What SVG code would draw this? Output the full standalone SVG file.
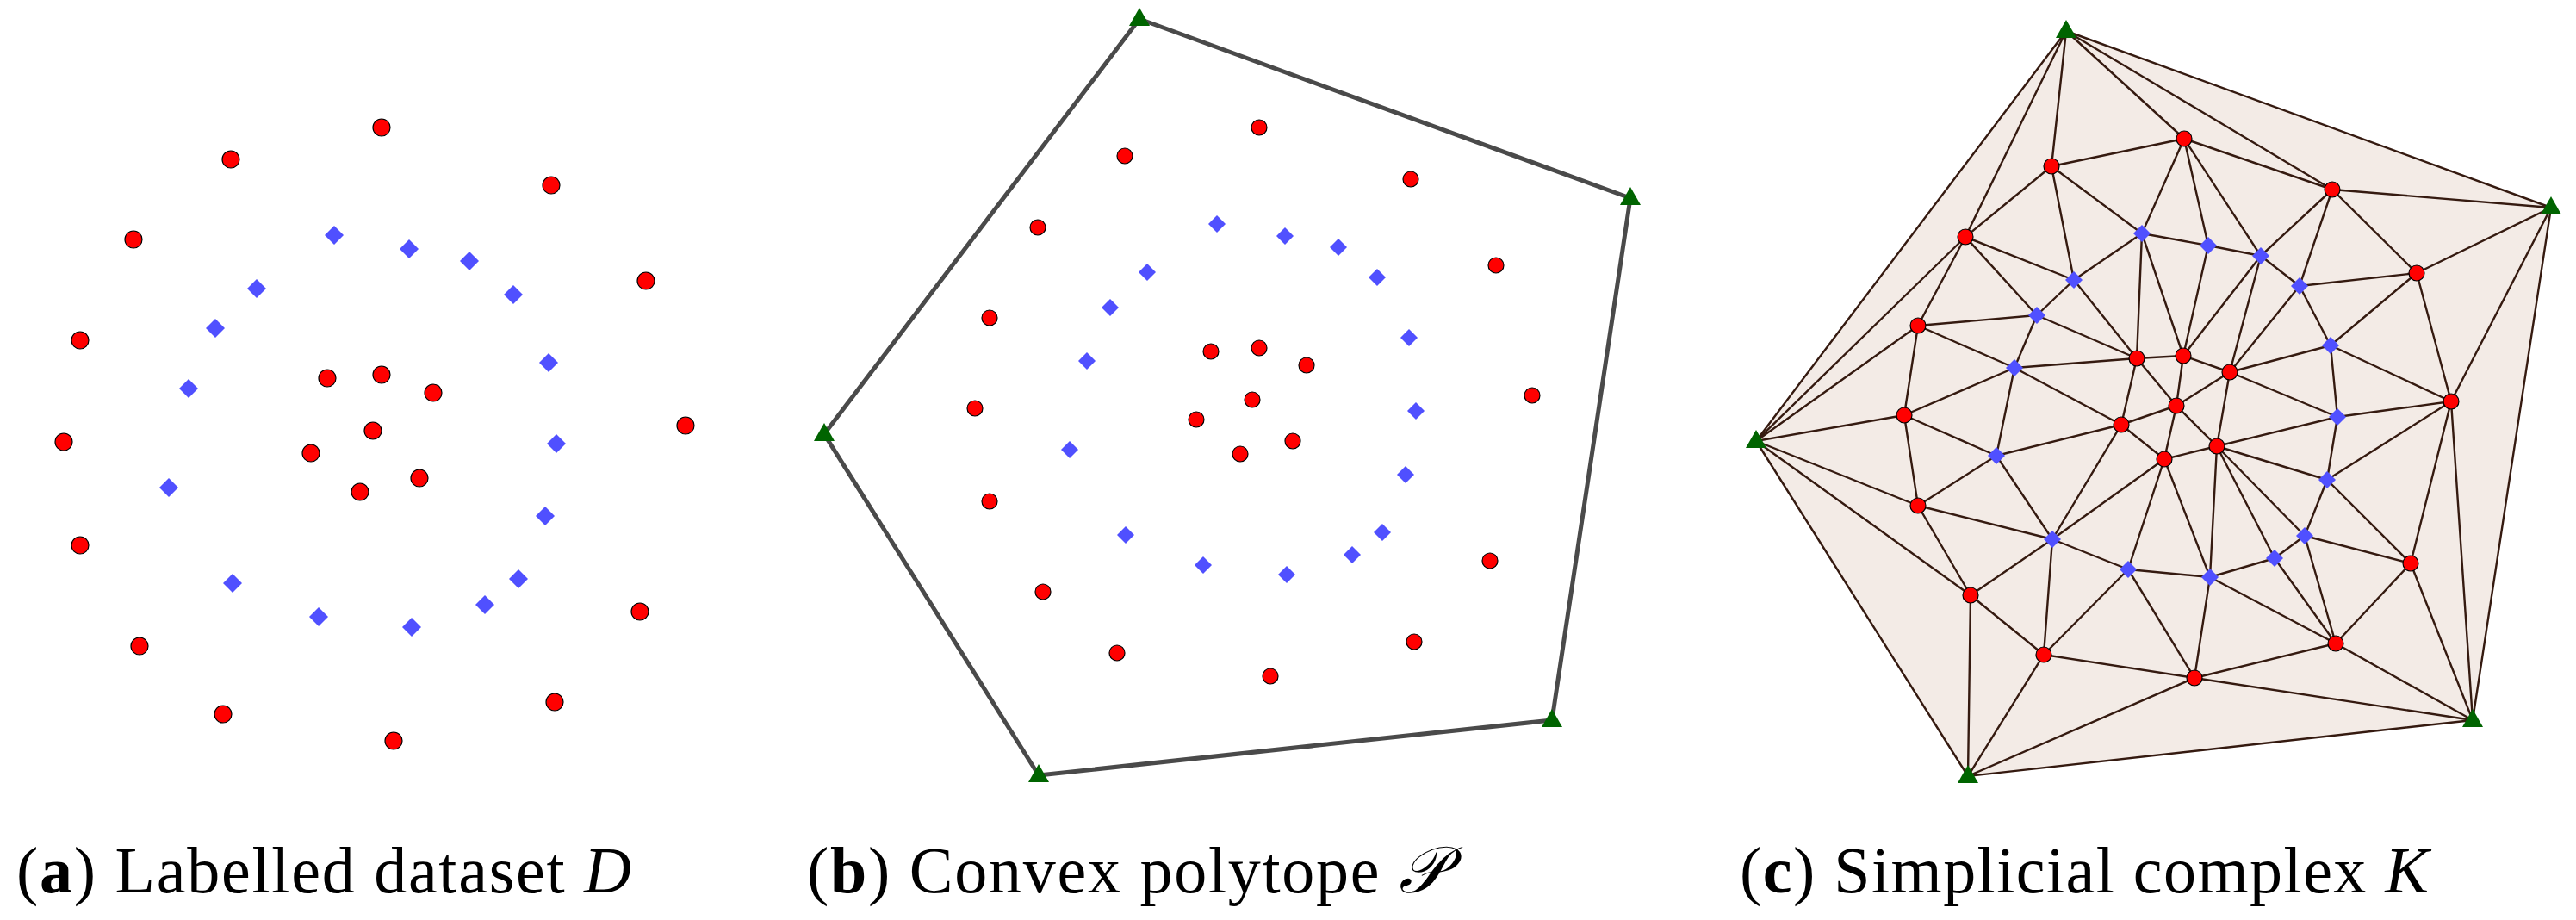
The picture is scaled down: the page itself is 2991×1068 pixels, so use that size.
<svg xmlns="http://www.w3.org/2000/svg" xmlns:xlink="http://www.w3.org/1999/xlink" width="2991" height="1068" viewBox="0 0 2991 1068">
<style>
.cap{font-family:"Liberation Serif","DejaVu Serif",serif;font-size:76px;fill:#000}
.edge{stroke:#351a10;stroke-width:2.4;stroke-linecap:round}
.hull{fill:#f3ebe6;stroke:none}
.poly{fill:none;stroke:#4a4a4a;stroke-width:5;stroke-linejoin:round}
</style>
<defs>
<circle id="dotA" r="10" fill="#ff0000" stroke="#000" stroke-width="1.2"/>
<polygon id="dmA" points="0,-11 11,0 0,11 -11,0" fill="#5050ff"/>
<circle id="dot" r="9" fill="#ff0000" stroke="#000" stroke-width="1.2"/>
<polygon id="dm" points="0,-10 10,0 0,10 -10,0" fill="#5050ff"/>
<polygon id="tri" points="0,-13 12,8 -12,8" fill="#006400"/>
</defs>
<rect width="2991" height="1068" fill="#fff"/>

<!-- Panel (a) -->
<g id="panel-a">
<g id="a-r1"><use href="#dotA" x="443" y="148"/></g>
<g id="a-r2"><use href="#dotA" x="268" y="185"/></g>
<g id="a-r3"><use href="#dotA" x="640" y="215"/></g>
<g id="a-r4"><use href="#dotA" x="155" y="278"/></g>
<g id="a-r5"><use href="#dotA" x="750" y="326"/></g>
<g id="a-r6"><use href="#dotA" x="93" y="395"/></g>
<g id="a-r7"><use href="#dotA" x="380" y="439"/></g>
<g id="a-r8"><use href="#dotA" x="443" y="435"/></g>
<g id="a-r9"><use href="#dotA" x="503" y="456"/></g>
<g id="a-r10"><use href="#dotA" x="74" y="513"/></g>
<g id="a-r11"><use href="#dotA" x="433" y="500"/></g>
<g id="a-r12"><use href="#dotA" x="361" y="526"/></g>
<g id="a-r13"><use href="#dotA" x="796" y="494"/></g>
<g id="a-r14"><use href="#dotA" x="487" y="555"/></g>
<g id="a-r15"><use href="#dotA" x="418" y="571"/></g>
<g id="a-r16"><use href="#dotA" x="93" y="633"/></g>
<g id="a-r17"><use href="#dotA" x="743" y="710"/></g>
<g id="a-r18"><use href="#dotA" x="162" y="750"/></g>
<g id="a-r19"><use href="#dotA" x="259" y="829"/></g>
<g id="a-r20"><use href="#dotA" x="644" y="815"/></g>
<g id="a-r21"><use href="#dotA" x="457" y="860"/></g>
<g id="a-b1"><use href="#dmA" x="388" y="273"/></g>
<g id="a-b2"><use href="#dmA" x="475" y="289"/></g>
<g id="a-b3"><use href="#dmA" x="545" y="303"/></g>
<g id="a-b4"><use href="#dmA" x="298" y="335"/></g>
<g id="a-b5"><use href="#dmA" x="596" y="342"/></g>
<g id="a-b6"><use href="#dmA" x="250" y="381"/></g>
<g id="a-b7"><use href="#dmA" x="637" y="421"/></g>
<g id="a-b8"><use href="#dmA" x="219" y="451"/></g>
<g id="a-b9"><use href="#dmA" x="646" y="515"/></g>
<g id="a-b10"><use href="#dmA" x="196" y="566"/></g>
<g id="a-b11"><use href="#dmA" x="633" y="599"/></g>
<g id="a-b12"><use href="#dmA" x="602" y="672"/></g>
<g id="a-b13"><use href="#dmA" x="270" y="677"/></g>
<g id="a-b14"><use href="#dmA" x="563" y="702"/></g>
<g id="a-b15"><use href="#dmA" x="370" y="716"/></g>
<g id="a-b16"><use href="#dmA" x="478" y="728"/></g>
</g>

<!-- Panel (b) -->
<g id="b-connectors">
<polygon class="poly" points="1323,22 1893,230 1802,836 1206,900 957,504"/>
</g>
<g id="panel-b">
<g id="b-r1"><use href="#dot" x="1462" y="148"/></g>
<g id="b-r2"><use href="#dot" x="1306" y="181"/></g>
<g id="b-r3"><use href="#dot" x="1638" y="208"/></g>
<g id="b-r4"><use href="#dot" x="1205" y="264"/></g>
<g id="b-r5"><use href="#dot" x="1737" y="308"/></g>
<g id="b-r6"><use href="#dot" x="1149" y="369"/></g>
<g id="b-r7"><use href="#dot" x="1406" y="408"/></g>
<g id="b-r8"><use href="#dot" x="1462" y="404"/></g>
<g id="b-r9"><use href="#dot" x="1517" y="424"/></g>
<g id="b-r10"><use href="#dot" x="1132" y="474"/></g>
<g id="b-r11"><use href="#dot" x="1454" y="464"/></g>
<g id="b-r12"><use href="#dot" x="1389" y="487"/></g>
<g id="b-r13"><use href="#dot" x="1779" y="459"/></g>
<g id="b-r14"><use href="#dot" x="1501" y="512"/></g>
<g id="b-r15"><use href="#dot" x="1440" y="527"/></g>
<g id="b-r16"><use href="#dot" x="1149" y="582"/></g>
<g id="b-r17"><use href="#dot" x="1730" y="651"/></g>
<g id="b-r18"><use href="#dot" x="1211" y="687"/></g>
<g id="b-r19"><use href="#dot" x="1297" y="758"/></g>
<g id="b-r20"><use href="#dot" x="1642" y="745"/></g>
<g id="b-r21"><use href="#dot" x="1475" y="785"/></g>
<g id="b-b1"><use href="#dm" x="1413" y="260"/></g>
<g id="b-b2"><use href="#dm" x="1492" y="274"/></g>
<g id="b-b3"><use href="#dm" x="1554" y="287"/></g>
<g id="b-b4"><use href="#dm" x="1332" y="316"/></g>
<g id="b-b5"><use href="#dm" x="1599" y="322"/></g>
<g id="b-b6"><use href="#dm" x="1289" y="357"/></g>
<g id="b-b7"><use href="#dm" x="1636" y="392"/></g>
<g id="b-b8"><use href="#dm" x="1262" y="419"/></g>
<g id="b-b9"><use href="#dm" x="1644" y="477"/></g>
<g id="b-b10"><use href="#dm" x="1242" y="522"/></g>
<g id="b-b11"><use href="#dm" x="1632" y="551"/></g>
<g id="b-b12"><use href="#dm" x="1605" y="618"/></g>
<g id="b-b13"><use href="#dm" x="1307" y="621"/></g>
<g id="b-b14"><use href="#dm" x="1570" y="644"/></g>
<g id="b-b15"><use href="#dm" x="1397" y="656"/></g>
<g id="b-b16"><use href="#dm" x="1494" y="667"/></g>
<g id="b-v1"><use href="#tri" x="1323" y="22"/></g>
<g id="b-v2"><use href="#tri" x="1893" y="230"/></g>
<g id="b-v3"><use href="#tri" x="1802" y="836"/></g>
<g id="b-v4"><use href="#tri" x="1206" y="900"/></g>
<g id="b-v5"><use href="#tri" x="957" y="504"/></g>
</g>

<!-- Panel (c) -->
<polygon id="c-hull" class="hull" points="2399,36 2962,241 2871,836 2285,901 2039,512"/>
<g id="c-connectors" class="edge">
<line x1="2399" y1="36" x2="2039" y2="512"/>
<line x1="2399" y1="36" x2="2282" y2="275"/>
<line x1="2399" y1="36" x2="2382" y2="193"/>
<line x1="2399" y1="36" x2="2536" y2="161"/>
<line x1="2399" y1="36" x2="2708" y2="220"/>
<line x1="2399" y1="36" x2="2962" y2="241"/>
<line x1="2962" y1="241" x2="2708" y2="220"/>
<line x1="2962" y1="241" x2="2806" y2="317"/>
<line x1="2962" y1="241" x2="2846" y2="466"/>
<line x1="2962" y1="241" x2="2871" y2="836"/>
<line x1="2039" y1="512" x2="2282" y2="275"/>
<line x1="2039" y1="512" x2="2227" y2="378"/>
<line x1="2039" y1="512" x2="2211" y2="482"/>
<line x1="2039" y1="512" x2="2227" y2="587"/>
<line x1="2039" y1="512" x2="2288" y2="691"/>
<line x1="2039" y1="512" x2="2285" y2="901"/>
<line x1="2871" y1="836" x2="2712" y2="747"/>
<line x1="2871" y1="836" x2="2548" y2="787"/>
<line x1="2871" y1="836" x2="2799" y2="654"/>
<line x1="2871" y1="836" x2="2846" y2="466"/>
<line x1="2871" y1="836" x2="2285" y2="901"/>
<line x1="2285" y1="901" x2="2288" y2="691"/>
<line x1="2285" y1="901" x2="2373" y2="760"/>
<line x1="2285" y1="901" x2="2548" y2="787"/>
<line x1="2536" y1="161" x2="2382" y2="193"/>
<line x1="2536" y1="161" x2="2487" y2="271"/>
<line x1="2536" y1="161" x2="2564" y2="285"/>
<line x1="2536" y1="161" x2="2625" y2="297"/>
<line x1="2536" y1="161" x2="2708" y2="220"/>
<line x1="2382" y1="193" x2="2282" y2="275"/>
<line x1="2382" y1="193" x2="2408" y2="325"/>
<line x1="2382" y1="193" x2="2487" y2="271"/>
<line x1="2708" y1="220" x2="2625" y2="297"/>
<line x1="2708" y1="220" x2="2670" y2="332"/>
<line x1="2708" y1="220" x2="2806" y2="317"/>
<line x1="2282" y1="275" x2="2227" y2="378"/>
<line x1="2282" y1="275" x2="2408" y2="325"/>
<line x1="2282" y1="275" x2="2365" y2="366"/>
<line x1="2806" y1="317" x2="2670" y2="332"/>
<line x1="2806" y1="317" x2="2706" y2="401"/>
<line x1="2806" y1="317" x2="2846" y2="466"/>
<line x1="2227" y1="378" x2="2365" y2="366"/>
<line x1="2227" y1="378" x2="2339" y2="427"/>
<line x1="2227" y1="378" x2="2211" y2="482"/>
<line x1="2481" y1="416" x2="2408" y2="325"/>
<line x1="2481" y1="416" x2="2487" y2="271"/>
<line x1="2481" y1="416" x2="2365" y2="366"/>
<line x1="2481" y1="416" x2="2339" y2="427"/>
<line x1="2481" y1="416" x2="2535" y2="413"/>
<line x1="2481" y1="416" x2="2463" y2="493"/>
<line x1="2481" y1="416" x2="2527" y2="471"/>
<line x1="2535" y1="413" x2="2487" y2="271"/>
<line x1="2535" y1="413" x2="2564" y2="285"/>
<line x1="2535" y1="413" x2="2625" y2="297"/>
<line x1="2535" y1="413" x2="2589" y2="432"/>
<line x1="2535" y1="413" x2="2527" y2="471"/>
<line x1="2589" y1="432" x2="2625" y2="297"/>
<line x1="2589" y1="432" x2="2670" y2="332"/>
<line x1="2589" y1="432" x2="2706" y2="401"/>
<line x1="2589" y1="432" x2="2527" y2="471"/>
<line x1="2589" y1="432" x2="2574" y2="518"/>
<line x1="2589" y1="432" x2="2714" y2="484"/>
<line x1="2211" y1="482" x2="2339" y2="427"/>
<line x1="2211" y1="482" x2="2318" y2="529"/>
<line x1="2211" y1="482" x2="2227" y2="587"/>
<line x1="2527" y1="471" x2="2463" y2="493"/>
<line x1="2527" y1="471" x2="2513" y2="533"/>
<line x1="2527" y1="471" x2="2574" y2="518"/>
<line x1="2463" y1="493" x2="2339" y2="427"/>
<line x1="2463" y1="493" x2="2318" y2="529"/>
<line x1="2463" y1="493" x2="2513" y2="533"/>
<line x1="2463" y1="493" x2="2383" y2="626"/>
<line x1="2846" y1="466" x2="2714" y2="484"/>
<line x1="2846" y1="466" x2="2702" y2="557"/>
<line x1="2846" y1="466" x2="2799" y2="654"/>
<line x1="2846" y1="466" x2="2706" y2="401"/>
<line x1="2574" y1="518" x2="2513" y2="533"/>
<line x1="2574" y1="518" x2="2714" y2="484"/>
<line x1="2574" y1="518" x2="2702" y2="557"/>
<line x1="2574" y1="518" x2="2566" y2="670"/>
<line x1="2574" y1="518" x2="2641" y2="648"/>
<line x1="2574" y1="518" x2="2676" y2="622"/>
<line x1="2513" y1="533" x2="2383" y2="626"/>
<line x1="2513" y1="533" x2="2471" y2="661"/>
<line x1="2513" y1="533" x2="2566" y2="670"/>
<line x1="2227" y1="587" x2="2318" y2="529"/>
<line x1="2227" y1="587" x2="2383" y2="626"/>
<line x1="2227" y1="587" x2="2288" y2="691"/>
<line x1="2799" y1="654" x2="2702" y2="557"/>
<line x1="2799" y1="654" x2="2676" y2="622"/>
<line x1="2799" y1="654" x2="2712" y2="747"/>
<line x1="2288" y1="691" x2="2383" y2="626"/>
<line x1="2288" y1="691" x2="2373" y2="760"/>
<line x1="2373" y1="760" x2="2383" y2="626"/>
<line x1="2373" y1="760" x2="2471" y2="661"/>
<line x1="2373" y1="760" x2="2548" y2="787"/>
<line x1="2712" y1="747" x2="2676" y2="622"/>
<line x1="2712" y1="747" x2="2641" y2="648"/>
<line x1="2712" y1="747" x2="2566" y2="670"/>
<line x1="2712" y1="747" x2="2548" y2="787"/>
<line x1="2548" y1="787" x2="2566" y2="670"/>
<line x1="2548" y1="787" x2="2471" y2="661"/>
<line x1="2487" y1="271" x2="2408" y2="325"/>
<line x1="2487" y1="271" x2="2564" y2="285"/>
<line x1="2564" y1="285" x2="2625" y2="297"/>
<line x1="2625" y1="297" x2="2670" y2="332"/>
<line x1="2408" y1="325" x2="2365" y2="366"/>
<line x1="2670" y1="332" x2="2706" y2="401"/>
<line x1="2365" y1="366" x2="2339" y2="427"/>
<line x1="2706" y1="401" x2="2714" y2="484"/>
<line x1="2339" y1="427" x2="2318" y2="529"/>
<line x1="2714" y1="484" x2="2702" y2="557"/>
<line x1="2318" y1="529" x2="2383" y2="626"/>
<line x1="2702" y1="557" x2="2676" y2="622"/>
<line x1="2676" y1="622" x2="2641" y2="648"/>
<line x1="2383" y1="626" x2="2471" y2="661"/>
<line x1="2641" y1="648" x2="2566" y2="670"/>
<line x1="2471" y1="661" x2="2566" y2="670"/>
</g>
<g id="panel-c">
<g id="c-c1"><use href="#dot" x="2536" y="161"/></g>
<g id="c-c2"><use href="#dot" x="2382" y="193"/></g>
<g id="c-c3"><use href="#dot" x="2708" y="220"/></g>
<g id="c-c4"><use href="#dot" x="2282" y="275"/></g>
<g id="c-c5"><use href="#dot" x="2806" y="317"/></g>
<g id="c-c6"><use href="#dot" x="2227" y="378"/></g>
<g id="c-c7"><use href="#dot" x="2481" y="416"/></g>
<g id="c-c8"><use href="#dot" x="2535" y="413"/></g>
<g id="c-c9"><use href="#dot" x="2589" y="432"/></g>
<g id="c-c10"><use href="#dot" x="2211" y="482"/></g>
<g id="c-c11"><use href="#dot" x="2527" y="471"/></g>
<g id="c-c12"><use href="#dot" x="2463" y="493"/></g>
<g id="c-c13"><use href="#dot" x="2846" y="466"/></g>
<g id="c-c14"><use href="#dot" x="2574" y="518"/></g>
<g id="c-c15"><use href="#dot" x="2513" y="533"/></g>
<g id="c-c16"><use href="#dot" x="2227" y="587"/></g>
<g id="c-c17"><use href="#dot" x="2799" y="654"/></g>
<g id="c-c18"><use href="#dot" x="2288" y="691"/></g>
<g id="c-c19"><use href="#dot" x="2373" y="760"/></g>
<g id="c-c20"><use href="#dot" x="2712" y="747"/></g>
<g id="c-c21"><use href="#dot" x="2548" y="787"/></g>
<g id="c-d1"><use href="#dm" x="2487" y="271"/></g>
<g id="c-d2"><use href="#dm" x="2564" y="285"/></g>
<g id="c-d3"><use href="#dm" x="2625" y="297"/></g>
<g id="c-d4"><use href="#dm" x="2408" y="325"/></g>
<g id="c-d5"><use href="#dm" x="2670" y="332"/></g>
<g id="c-d6"><use href="#dm" x="2365" y="366"/></g>
<g id="c-d7"><use href="#dm" x="2706" y="401"/></g>
<g id="c-d8"><use href="#dm" x="2339" y="427"/></g>
<g id="c-d9"><use href="#dm" x="2714" y="484"/></g>
<g id="c-d10"><use href="#dm" x="2318" y="529"/></g>
<g id="c-d11"><use href="#dm" x="2702" y="557"/></g>
<g id="c-d12"><use href="#dm" x="2676" y="622"/></g>
<g id="c-d13"><use href="#dm" x="2383" y="626"/></g>
<g id="c-d14"><use href="#dm" x="2641" y="648"/></g>
<g id="c-d15"><use href="#dm" x="2471" y="661"/></g>
<g id="c-d16"><use href="#dm" x="2566" y="670"/></g>
<g id="c-t1"><use href="#tri" x="2399" y="36"/></g>
<g id="c-t2"><use href="#tri" x="2962" y="241"/></g>
<g id="c-t3"><use href="#tri" x="2039" y="512"/></g>
<g id="c-t4"><use href="#tri" x="2871" y="836"/></g>
<g id="c-t5"><use href="#tri" x="2285" y="901"/></g>
</g>

<!-- Captions -->
<text id="cap-a" class="cap" x="19" y="1036" textLength="714">(<tspan font-weight="bold">a</tspan>) Labelled dataset <tspan font-style="italic">D</tspan></text>
<text id="cap-b" class="cap" x="937" y="1036" textLength="742">(<tspan font-weight="bold">b</tspan>) Convex polytope <tspan font-style="italic">𝒫</tspan></text>
<text id="cap-c" class="cap" x="2020" y="1036" textLength="800">(<tspan font-weight="bold">c</tspan>) Simplicial complex <tspan font-style="italic">K</tspan></text>
</svg>
